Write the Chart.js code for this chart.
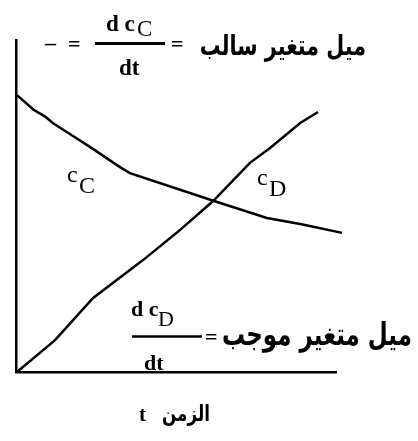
<!DOCTYPE html>
<html>
<head>
<meta charset="utf-8">
<script src="https://cdn.jsdelivr.net/npm/chart.js@4/dist/chart.umd.min.js"></script>
<style>
  body { margin: 0; background: #fff; }
  #wrap { width: 418px; height: 441px; }
</style>
</head>
<body>
<div id="wrap"><canvas id="rateChart"></canvas></div>
<script>
// curve C (reactant, falls) and curve D (product, rises)
const timeC = [0.03, 0.55, 0.9, 1.16, 1.78, 2.31, 3.25, 3.56, 6.19, 7.84, 8.88, 10.19];
const concC = [8.34, 7.90, 7.70, 7.49, 7.11, 6.78, 6.17, 5.99, 5.15, 4.64, 4.46, 4.19];
const timeD = [0.03, 1.22, 2.41, 3.97, 5.13, 5.84, 6.16, 7.31, 7.94, 8.88, 9.44];
const concD = [0.00, 0.96, 2.23, 3.37, 4.28, 4.88, 5.15, 6.30, 6.75, 7.50, 7.83];

const tRange = [0, 10];
const cRange = [0, 10];

const slopeNeg = 'ميل متغير سالب';
const slopePos = 'ميل متغير موجب';
const timeTitle = 'الزمن';

const toPoints = (xs, ys) => xs.map((x, i) => ({x: x, y: ys[i]}));

// Arabic text fitted to a width, then stretched a little in height
const fitText = (ctx, txt, right, base, width, stretch) => {
    const family = '"DejaVu Sans", sans-serif';
    ctx.font = 'bold 20px ' + family;
    let size = 20 * width / ctx.measureText(txt).width;
    ctx.font = 'bold ' + size.toFixed(1) + 'px ' + family;
    ctx.textAlign = 'right';
    ctx.save();
    ctx.translate(right, base);
    ctx.scale(1, stretch);
    ctx.fillText(txt, 0, 0);
    ctx.restore();
};

const sketchText = {
    id: 'sketchText',
    afterDraw(chart) {
        const ctx = chart.ctx;
        const serif = '"Liberation Serif", "Times New Roman", serif';
        ctx.save();
        ctx.fillStyle = '#000';
        ctx.strokeStyle = '#000';
        ctx.textBaseline = 'alphabetic';
        ctx.textAlign = 'left';

        // top: - = d cC / dt = slope negative
        ctx.font = 'bold 22px ' + serif;
        ctx.fillText('\u2013', 45, 50);
        ctx.fillText('=', 68, 51);
        ctx.fillText('=', 171, 51);
        ctx.font = 'bold 23px ' + serif;
        ctx.fillText('d c', 106, 31);
        ctx.fillText('dt', 119, 75);
        ctx.font = '23px ' + serif;
        ctx.fillText('C', 137, 36);
        ctx.lineWidth = 3;
        ctx.beginPath(); ctx.moveTo(95, 43.5); ctx.lineTo(165, 43.5); ctx.stroke();
        fitText(ctx, slopeNeg, 366, 55, 166, 1.35);

        // bottom: d cD / dt = slope positive
        ctx.textAlign = 'left';
        ctx.font = 'bold 22px ' + serif;
        ctx.fillText('d c', 131, 316);
        ctx.fillText('dt', 144, 370);
        ctx.fillText('=', 205, 344);
        ctx.font = '22px ' + serif;
        ctx.fillText('D', 158, 326);
        ctx.lineWidth = 2.5;
        ctx.beginPath(); ctx.moveTo(132, 336.5); ctx.lineTo(202, 336.5); ctx.stroke();
        fitText(ctx, slopePos, 412, 345, 190, 1.35);

        // curve labels
        ctx.textAlign = 'left';
        ctx.font = '24px ' + serif;
        ctx.fillText('c', 67, 182);
        ctx.fillText('C', 79, 193);
        ctx.fillText('c', 257, 185);
        ctx.fillText('D', 269, 196);

        // axis title
        ctx.font = 'bold 21px ' + serif;
        ctx.fillText('t', 139, 421);
        fitText(ctx, timeTitle, 210, 421, 48, 1.3);
        ctx.restore();
    }
};

new Chart('rateChart', {
    type: 'line',
    data: {
        datasets: [
            {
                label: 'cC',
                data: toPoints(timeC, concC),
                borderColor: '#000',
                borderWidth: 2.5,
                pointRadius: 0,
                tension: 0,
                clip: false
            },
            {
                label: 'cD',
                data: toPoints(timeD, concD),
                borderColor: '#000',
                borderWidth: 2.5,
                pointRadius: 0,
                tension: 0,
                clip: false
            }
        ]
    },
    options: {
        responsive: true,
        maintainAspectRatio: false,
        animation: false,
        layout: {
            padding: {left: 16, top: 40, right: 82, bottom: 69}
        },
        plugins: {
            legend: {display: false},
            tooltip: {enabled: false}
        },
        scales: {
            x: {
                type: 'linear',
                min: tRange[0],
                max: tRange[1],
                grid: {display: false, drawTicks: false},
                ticks: {display: false},
                border: {display: true, color: '#000', width: 2.5}
            },
            y: {
                type: 'linear',
                min: cRange[0],
                max: cRange[1],
                grid: {display: false, drawTicks: false},
                ticks: {display: false},
                border: {display: true, color: '#000', width: 2.5}
            }
        }
    },
    plugins: [sketchText]
});
</script>
</body>
</html>
